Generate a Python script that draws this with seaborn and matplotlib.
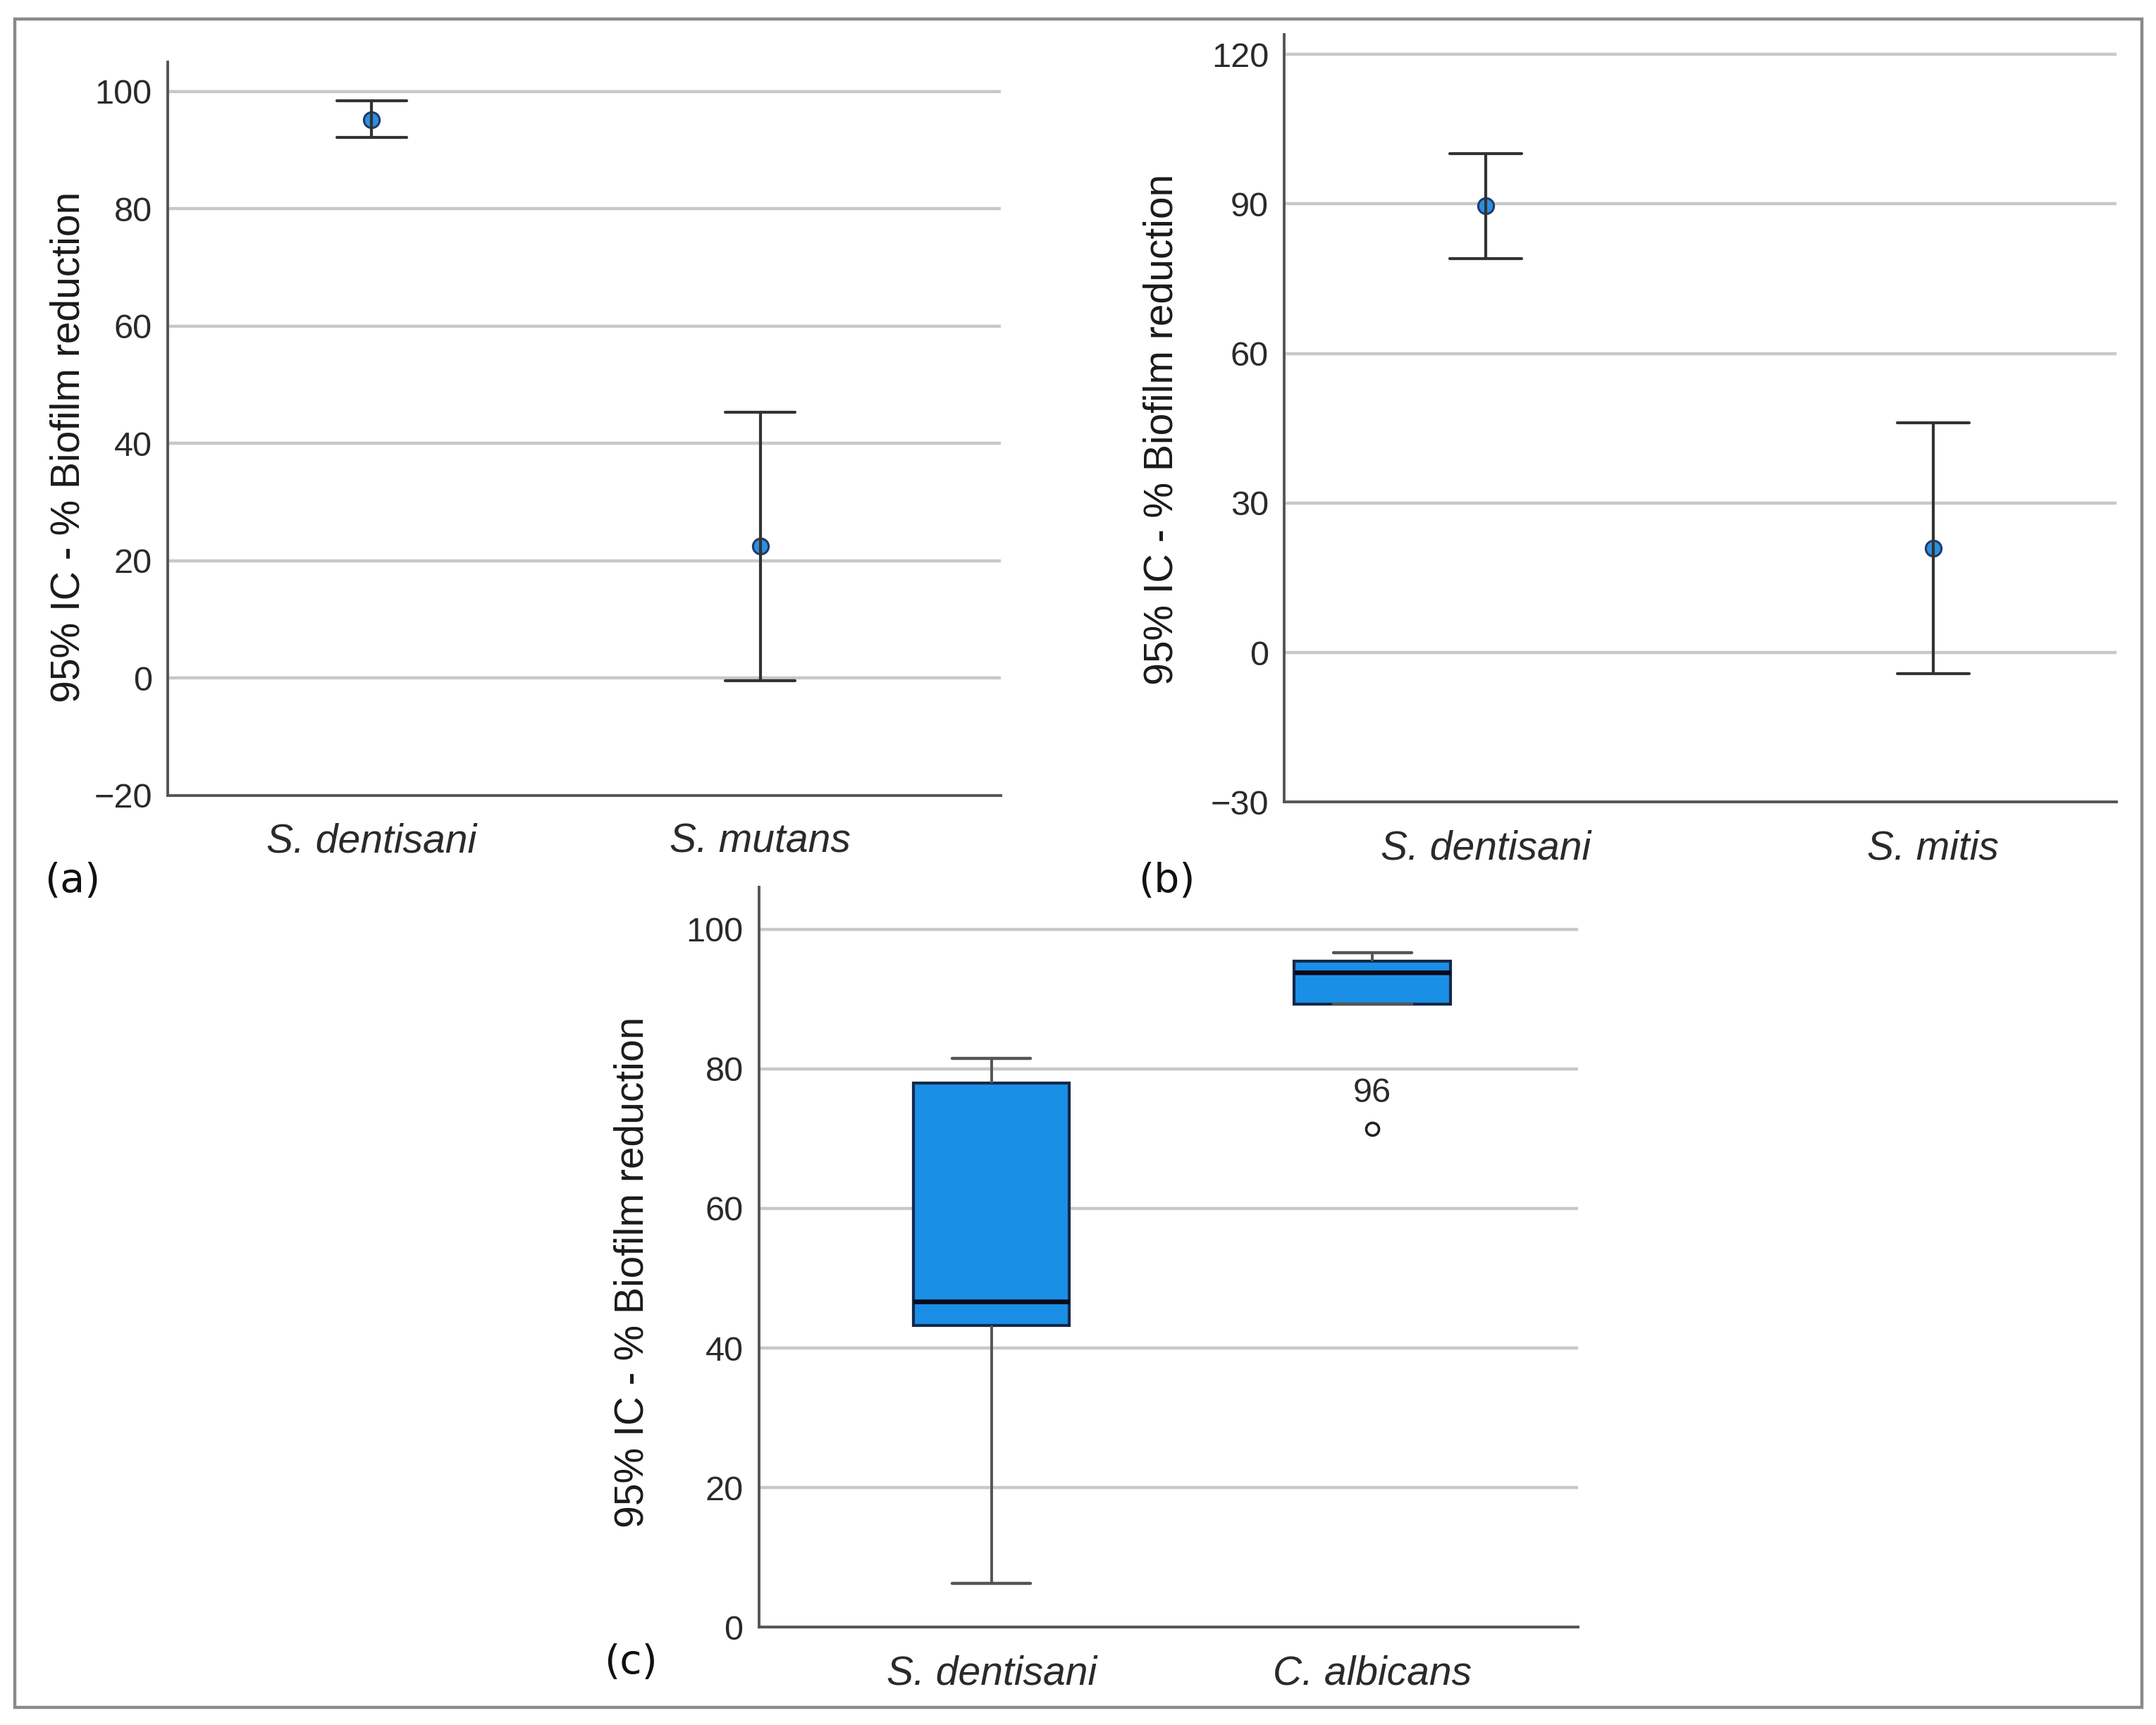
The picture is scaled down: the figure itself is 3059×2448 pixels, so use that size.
import matplotlib
matplotlib.use("Agg")
import matplotlib.pyplot as plt
import numpy as np
import pandas as pd
import seaborn as sns
from matplotlib.patches import Rectangle

# panel (a): mean and 95% CI of biofilm reduction
a_groups = ["S. dentisani", "S. mutans"]
a_low = [92.1, -0.5]
a_mean = [95.2, 22.5]
a_high = [98.4, 45.3]

# panel (b)
b_groups = ["S. dentisani", "S. mitis"]
b_low = [79.1, -4.2]
b_mean = [89.6, 20.9]
b_high = [100.1, 46.1]

# panel (c): box plot values (low, q1, median, q3, high)
c_groups = ["S. dentisani", "C. albicans"]
c_dentisani = [6.3, 43.2, 46.7, 78.0, 81.5]
c_albicans = [71.4, 89.3, 93.8, 95.4, 96.6]
c_outlier_label = "96"

ylabel = "95% IC - % Biofilm reduction"


def ci_frame(groups, low, mean, high):
    rows = []
    for g, lo, m, hi in zip(groups, low, mean, high):
        rows += [(g, lo), (g, m), (g, hi)]
    return pd.DataFrame(rows, columns=["group", "value"])


def style_axes(ax, ylim, yticks, xlim):
    ax.set_ylim(*ylim)
    ax.set_yticks(yticks)
    ax.set_xlim(*xlim)
    ax.yaxis.grid(True, color="#c8c8c8", lw=1.6)
    ax.xaxis.grid(False)
    ax.set_axisbelow(True)
    for s in ["top", "right"]:
        ax.spines[s].set_visible(False)
    for s in ["left", "bottom"]:
        ax.spines[s].set_color("#555555")
        ax.spines[s].set_linewidth(1.4)
    ax.tick_params(axis="both", length=0, colors="#2a2a2a")
    ax.tick_params(axis="y", labelsize=17.5, pad=8)
    ax.tick_params(axis="x", labelsize=20.5, pad=14)
    for lbl in ax.get_xticklabels():
        lbl.set_fontstyle("italic")
    ax.set_xlabel("")
    ax.set_ylabel("")


sns.set_theme(style="white")
plt.rcParams["font.family"] = ["Liberation Sans", "DejaVu Sans"]

fig = plt.figure(figsize=(15.295, 12.24), dpi=200)

dot_kws = dict(estimator="median", errorbar=("pi", 100), color="#2f8fdc",
               markers="o", linestyles="none",
               err_kws={"color": "#333333", "linewidth": 1.5},
               markersize=8, markeredgecolor="#1f3b6e", markeredgewidth=1.1)

# (a)
ax_a = fig.add_axes([0.0778, 0.539, 0.3865, 0.425])
sns.pointplot(data=ci_frame(a_groups, a_low, a_mean, a_high), x="group", y="value",
              capsize=0.18, ax=ax_a, **dot_kws)
style_axes(ax_a, (-20, 105), np.arange(-20, 101, 20), (-0.525, 1.62))

# (b)
ax_b = fig.add_axes([0.5957, 0.535, 0.386, 0.445])
sns.pointplot(data=ci_frame(b_groups, b_low, b_mean, b_high), x="group", y="value",
              capsize=0.16, ax=ax_b, **dot_kws)
style_axes(ax_b, (-30, 124), np.arange(-30, 121, 30), (-0.45, 1.41))

# (c)
dfc = pd.DataFrame({
    "group": [c_groups[0]] * len(c_dentisani) + [c_groups[1]] * len(c_albicans),
    "value": c_dentisani + c_albicans,
})
ax_c = fig.add_axes([0.352, 0.0566, 0.380, 0.429])
sns.boxplot(data=dfc, x="group", y="value", order=c_groups, color="#1a8fe6",
            saturation=1, width=0.41, linecolor="#17284a", linewidth=1.5,
            fliersize=6.5,
            whiskerprops={"color": "#555555", "linewidth": 1.4},
            capprops={"color": "#555555", "linewidth": 1.6},
            medianprops={"color": "#0a0a1a", "linewidth": 2.4},
            flierprops={"marker": "o", "markerfacecolor": "white",
                        "markeredgecolor": "#222222", "markeredgewidth": 1.3},
            ax=ax_c)
style_axes(ax_c, (0, 106), np.arange(0, 101, 20), (-0.61, 1.54))
ax_c.annotate(c_outlier_label, xy=(1, c_albicans[0]), xytext=(0, 10),
              textcoords="offset points", ha="center", va="bottom",
              fontsize=17.5, color="#2a2a2a")

# y labels and panel letters
for x, y in [(0.0319, 0.741), (0.539, 0.751), (0.2934, 0.2624)]:
    fig.text(x, y, ylabel, rotation=90, ha="center", va="center",
             fontsize=20.5, color="#1a1a1a")
for x, y, t in [(0.0337, 0.489, "(a)"), (0.541, 0.489, "(b)"), (0.2926, 0.036, "(c)")]:
    fig.text(x, y, t, ha="center", va="center", fontsize=20.5,
             family="DejaVu Sans", color="#111111")

fig.patches.append(Rectangle((0.007, 0.0104), 0.9866, 0.9785, transform=fig.transFigure,
                             fill=False, edgecolor="#8a8a8a", linewidth=1.6))

fig.savefig("out.png", dpi=200, facecolor="white")
